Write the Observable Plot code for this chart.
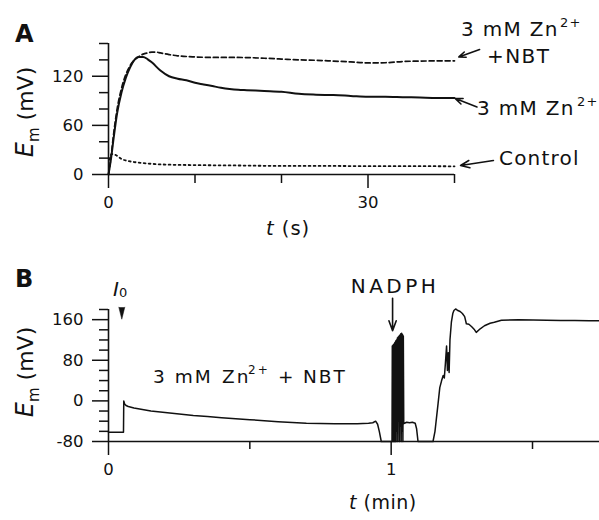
<!DOCTYPE html>
<html>
<head>
<meta charset="utf-8">
<script src="https://cdn.jsdelivr.net/npm/d3@7"></script>
<script src="https://cdn.jsdelivr.net/npm/@observablehq/plot@0.6"></script>
<style>
  html, body { margin: 0; padding: 0; background: #fff; }
  #chart { width: 599px; height: 520px; position: relative; overflow: hidden; }
  #chart svg { display: block; }
</style>
</head>
<body>
<div id="chart"></div>
<script>
// ---------- Panel A data (t in s, Em in mV) ----------
const tZn = [0, 0.3, 0.6, 1, 1.5, 2, 2.5, 3, 3.5, 4, 4.5, 5, 6, 7, 8, 9, 10, 11, 12, 13, 14, 15, 16, 18, 20, 22, 24, 26, 28, 30, 32, 34, 36, 38, 40];
const eZn = [0, 20, 45, 75, 100, 118, 131, 140, 143.5, 143.5, 141, 137, 127, 120, 117, 115, 112, 110, 108, 106, 104.5, 103.5, 103, 102, 101, 98.5, 97.5, 97, 96, 95, 95, 94.5, 94, 93.5, 93.5];
const tNbt = [0, 0.3, 0.6, 1, 1.5, 2, 2.5, 3, 3.5, 4, 4.5, 5, 5.5, 6, 7, 8, 10, 12, 14, 16, 18, 20, 22, 24, 26, 28, 30, 32, 34, 36, 38, 40];
const eNbt = [0, 22, 50, 80, 105, 122, 133, 140, 144, 147, 148.5, 149.5, 149.5, 148.5, 146.5, 145, 143.6, 143, 143, 142.8, 142, 141, 140, 139.5, 138.5, 137.5, 136.3, 136.5, 138, 138.5, 138.8, 138.8];
const tCtl = [0.1, 0.4, 0.8, 1.5, 2.5, 3.5, 5, 7, 10, 15, 20, 25, 30, 35, 40];
const eCtl = [18, 25, 24, 19, 16, 14.5, 13, 12, 11.5, 11, 10.5, 10.5, 10.2, 10.2, 10];
const xMajorA = [0, 30], xMinorA = [10, 20, 40];
const yMajorA = [0, 60, 120], yMinorA = [20, 40, 80, 100, 140, 160];
// annotation arrows (data coords): tail -> head
const arrowsA = [
  {x1: 42.9, y1: 152.6, x2: 40.5, y2: 143.6},
  {x1: 42.6, y1: 82.4, x2: 40.1, y2: 92.7},
  {x1: 44.5, y1: 17.1, x2: 40.7, y2: 11}
];

// ---------- Panel B data (t in min, Em in mV) ----------
const tB = [0, 0.053, 0.054, 0.057, 0.062, 0.07, 0.09, 0.12, 0.15, 0.2, 0.25, 0.3, 0.35, 0.4, 0.5, 0.6, 0.7, 0.8, 0.88, 0.92, 0.935, 0.945, 0.952, 0.958, 0.965, 1.003,
  1.004, 1.0055, 1.007, 1.0085, 1.010, 1.0115, 1.013, 1.0145, 1.016, 1.0175, 1.019, 1.0205, 1.022, 1.0235, 1.025, 1.0265, 1.028, 1.0295, 1.031, 1.0325, 1.034, 1.0355, 1.037, 1.0385, 1.040, 1.0415, 1.043, 1.0445,
  1.047, 1.055, 1.065, 1.075, 1.085, 1.09, 1.095, 1.148,
  1.155, 1.16, 1.166, 1.172, 1.178, 1.184, 1.188, 1.192, 1.196, 1.199, 1.202, 1.205, 1.208, 1.213, 1.218, 1.222, 1.228, 1.236, 1.244, 1.252, 1.26, 1.266, 1.275, 1.285, 1.295, 1.301, 1.315, 1.33, 1.35, 1.365, 1.39, 1.45, 1.503, 1.55, 1.6, 1.65, 1.7, 1.737];
const eB = [-62, -62, 0, -6, -9, -11, -14, -17, -20, -23, -26, -29, -31, -33, -37, -41, -44, -45, -45, -44, -43, -40, -46, -60, -80, -80,
  108, -80, 110, -80, 112, -80, 115, -80, 118, -80, 120, -60, 124, -80, 126, -40, 128, -80, 130, -50, 132, -80, 133, -60, 131, -80, 128, -45,
  -44, -42, -43, -42, -44, -55, -80, -80,
  -60, -35, -5, 26, 39, 50, 45, 75, 108, 60, 95, 56, 120, 155, 172, 178, 181, 178, 176, 172, 166, 152, 151, 146, 140, 135, 142, 148, 153, 155, 159, 160, 159.5, 159, 158.5, 158.5, 158, 158];
const xMajorB = [0, 1], xMinorB = [0.5, 1.5];
const yMajorB = [-80, 0, 80, 160], yMinorB = [-60, -40, -20, 20, 40, 60, 100, 120, 140, 180];
const nadphArrow = [{x1: 1.005, y1: 202, x2: 1.005, y2: 138}];
const injection = [{t: 0.047, e: 184.5}];

// ---------- labels ----------
const panelLabels = ["A", "B"];
const seriesLabels = ["3 mM Zn", "+NBT", "3 mM Zn", "Control"];
const FONT = "'DejaVu Sans', 'Liberation Sans', sans-serif";
const ink = "#111";

const zn = tZn.map((t, i) => ({t, e: eZn[i]}));
const nbt = tNbt.map((t, i) => ({t, e: eNbt[i]}));
const ctl = tCtl.map((t, i) => ({t, e: eCtl[i]}));
const trB = tB.map((t, i) => ({t, e: eB[i]}));

const axisStyle = {stroke: ink, strokeWidth: 1.5, fontSize: 16.5, label: null};
const fmt = d => String(d);
const none = () => "";

const plotA = Plot.plot({
  width: 599, height: 250,
  marginLeft: 108, marginRight: 145, marginTop: 43, marginBottom: 76,
  x: {domain: [0, 40]},
  y: {domain: [0, 160]},
  style: {fontFamily: FONT, fontSize: "16.5px", color: ink, background: "white", overflow: "visible"},
  marks: [
    Plot.ruleY([0], {x1: 0, x2: 40, stroke: ink, strokeWidth: 1.6}),
    Plot.ruleX([0], {y1: 0, y2: 160, stroke: ink, strokeWidth: 1.6}),
    Plot.axisY(yMajorA, {...axisStyle, tickSize: 16, tickPadding: 9, tickFormat: fmt}),
    Plot.axisY(yMinorA, {...axisStyle, tickSize: 9, tickFormat: none}),
    Plot.axisX(xMajorA, {...axisStyle, tickSize: 14, tickPadding: 8, tickFormat: fmt}),
    Plot.axisX(xMinorA, {...axisStyle, tickSize: 9, tickFormat: none}),
    Plot.line(ctl, {x: "t", y: "e", stroke: ink, strokeWidth: 1.8, strokeDasharray: "1.8,3.2", curve: "monotone-x"}),
    Plot.line(nbt, {x: "t", y: "e", stroke: ink, strokeWidth: 1.7, strokeDasharray: "5,3", curve: "monotone-x"}),
    Plot.line(zn, {x: "t", y: "e", stroke: ink, strokeWidth: 2, curve: "monotone-x"}),
    Plot.arrow(arrowsA, {x1: "x1", y1: "y1", x2: "x2", y2: "y2", stroke: ink, strokeWidth: 1.6, headLength: 9, headAngle: 45})
  ]
});

const plotB = Plot.plot({
  width: 599, height: 270,
  marginLeft: 108, marginRight: 0, marginTop: 59, marginBottom: 79,
  x: {domain: [0, 1.737]},
  y: {domain: [-80, 180]},
  style: {fontFamily: FONT, fontSize: "16.5px", color: ink, background: "white", overflow: "visible"},
  marks: [
    Plot.ruleY([-80], {x1: 0, x2: 1.737, stroke: ink, strokeWidth: 1.6}),
    Plot.ruleX([0], {y1: -80, y2: 180, stroke: ink, strokeWidth: 1.6}),
    Plot.axisY(yMajorB, {...axisStyle, tickSize: 16, tickPadding: 9, tickFormat: fmt}),
    Plot.axisY(yMinorB, {...axisStyle, tickSize: 9, tickFormat: none}),
    Plot.axisX(xMajorB, {...axisStyle, tickSize: 14, tickPadding: 8, tickFormat: fmt}),
    Plot.axisX(xMinorB, {...axisStyle, tickSize: 8, tickFormat: none}),
    Plot.line(trB, {x: "t", y: "e", stroke: ink, strokeWidth: 1.5}),
    Plot.arrow(nadphArrow, {x1: "x1", y1: "y1", x2: "x2", y2: "y2", stroke: ink, strokeWidth: 1.6, headLength: 10, headAngle: 40}),
    Plot.vector(injection, {x: "t", y: "e", length: 12, rotate: 180, shape: "spike", r: 3, anchor: "start", fill: ink, stroke: ink, strokeWidth: 0.5})
  ]
});

function rich(svg, x, y, parts, o = {}) {
  const t = d3.select(svg).append("text")
    .attr("x", x).attr("y", y)
    .attr("fill", ink)
    .attr("font-family", FONT)
    .attr("font-size", o.size || 20)
    .attr("letter-spacing", o.ls || 0)
    .attr("text-anchor", o.anchor || "start");
  if (o.weight) t.attr("font-weight", o.weight);
  if (o.rotate) t.attr("transform", `rotate(${o.rotate} ${x} ${y})`);
  for (const p of parts) {
    const s = t.append("tspan").text(p.text);
    if (p.x != null) s.attr("x", p.x);
    if (p.dy) s.attr("dy", p.dy);
    if (p.size) s.attr("font-size", p.size);
    if (p.italic) s.attr("font-style", "italic");
  }
  return t;
}

// Panel A texts
rich(plotA, 15, 42, [{text: panelLabels[0]}], {size: 24, weight: "bold"});
rich(plotA, 33, 112, [{text: "E", italic: true, size: 24}, {text: "m", size: 15, dy: 6}, {text: " (mV)", size: 22, dy: -6}], {rotate: -90, anchor: "middle"});
rich(plotA, 266, 235, [{text: "t", italic: true}, {text: " (s)"}], {size: 19.5, ls: 1});
rich(plotA, 461, 36, [{text: seriesLabels[0]}, {text: "2+", size: 13, dy: -9, x: 560}], {size: 20, ls: 1.3});
rich(plotA, 487, 63, [{text: seriesLabels[1]}], {size: 20, ls: 1.4});
rich(plotA, 477, 115, [{text: seriesLabels[2]}, {text: "2+", size: 13, dy: -9, x: 577}], {size: 20, ls: 1.3});
rich(plotA, 499, 165, [{text: seriesLabels[3]}], {size: 20, ls: 1.2});

// Panel B texts (svg B starts at page y = 250)
rich(plotB, 15, 37, [{text: panelLabels[1]}], {size: 24, weight: "bold"});
rich(plotB, 33, 122, [{text: "E", italic: true, size: 24}, {text: "m", size: 15, dy: 6}, {text: " (mV)", size: 22, dy: -6}], {rotate: -90, anchor: "middle"});
rich(plotB, 349, 259, [{text: "t", italic: true}, {text: " (min)"}], {size: 19, ls: 0.5});
rich(plotB, 113, 46, [{text: "I", italic: true, size: 20}, {text: "0", size: 13, dy: 1}], {});
rich(plotB, 395, 43, [{text: "NADPH"}], {size: 20, ls: 3.5, anchor: "middle"});
rich(plotB, 153, 133, [{text: "3 mM"}, {text: "Zn", x: 222}, {text: "2+", size: 12, dy: -9, x: 248}, {text: "+", dy: 9, x: 278}, {text: "NBT", x: 303}], {size: 18.5, ls: 2});

const root = document.getElementById("chart");
root.appendChild(plotA);
root.appendChild(plotB);
</script>
</body>
</html>
